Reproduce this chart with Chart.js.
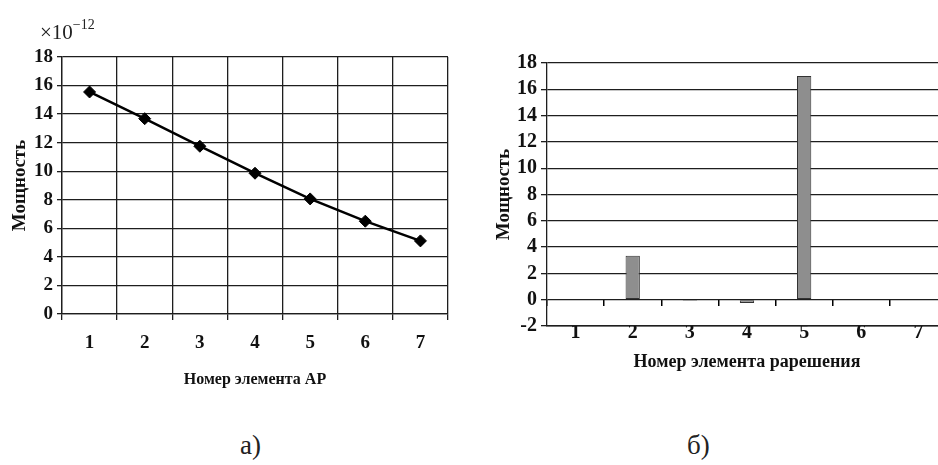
<!DOCTYPE html>
<html>
<head>
<meta charset="utf-8">
<script src="https://cdn.jsdelivr.net/npm/chart.js@4.4.1/dist/chart.umd.min.js"></script>
<style>
html, body { margin:0; padding:0; background:#fff; overflow:hidden; }
#wrap { position:relative; width:938px; height:465px; overflow:hidden; background:#fff; }
canvas { position:absolute; }
.lbl { position:absolute; font-family:'Liberation Serif', serif; color:#222; white-space:nowrap; }
.lbl sup { font-size:14px; vertical-align:10px; }
</style>
</head>
<body>
<div id="wrap">
<canvas id="chartA" width="470" height="400" style="left:0;top:0;width:470px;height:400px"></canvas>
<canvas id="chartB" width="480" height="400" style="left:470px;top:0;width:480px;height:400px"></canvas>
<div class="lbl" style="left:40px;top:14px;font-size:21px;line-height:21px">×10<sup>−12</sup></div>
<div class="lbl" style="left:240px;top:432px;font-size:27px;line-height:27px">а)</div>
<div class="lbl" style="left:687px;top:432px;font-size:27px;line-height:27px">б)</div>
</div>
<script>
// left: power vs array element
var elementsA = ['1', '2', '3', '4', '5', '6', '7'];
var powerA = [15.55, 13.68, 11.75, 9.86, 8.06, 6.5, 5.12];
// right: power vs grating element
var elementsB = ['1', '2', '3', '4', '5', '6', '7'];
var powerB = [0, 3.35, -0.08, -0.25, 17.02, 0, 0];

var serif = "'Liberation Serif', 'Times New Roman', serif";
var ink = '#111';
var gridInk = '#1e1e1e';

Chart.defaults.animation = false;
Chart.defaults.color = ink;

function tickFont(size){
    return { family: serif, size: size, weight: 'bold' };
}

var configA = {
    type: 'line',
    data: {
        labels: elementsA,
        datasets: [{
            data: powerA,
            borderColor: '#000',
            borderWidth: 2.5,
            backgroundColor: '#000',
            pointStyle: 'rectRot',
            pointRadius: 6,
            pointBorderWidth: 1,
            tension: 0
        }]
    },
    options: {
        responsive: false,
        layout: { padding: { top: 57, right: 22, bottom: 0, left: 0 } },
        plugins: { legend: { display: false }, tooltip: { enabled: false } },
        scales: {
            x: {
                offset: true,
                grid: { offset: true, color: gridInk, lineWidth: 1.3, tickLength: 6 },
                border: { color: gridInk, width: 1.3 },
                ticks: { font: tickFont(19), padding: 12 },
                title: {
                    display: true,
                    text: 'Номер элемента АР',
                    font: { family: serif, size: 16, weight: 'bold', lineHeight: 1 },
                    padding: { top: 0, bottom: 12 }
                },
                afterFit: function(s){ s.height = 86; }
            },
            y: {
                min: 0,
                max: 18,
                grid: { color: gridInk, lineWidth: 1.3, tickLength: 5 },
                border: { color: gridInk, width: 1.3 },
                ticks: { stepSize: 2, autoSkip: false, font: tickFont(19), padding: 4 },
                title: {
                    display: true,
                    text: 'Мощность',
                    font: { family: serif, size: 19, weight: 'bold', lineHeight: 1 },
                    padding: { top: 10.5, bottom: 0 }
                },
                afterFit: function(s){ s.width = 62; }
            }
        }
    }
};

var configB = {
    type: 'bar',
    data: {
        labels: elementsB,
        datasets: [{
            data: powerB,
            xAxisID: 'x',
            backgroundColor: '#8e8e8e',
            borderColor: '#333',
            borderWidth: 1,
            borderSkipped: false,
            categoryPercentage: 0.5,
            barPercentage: 0.5
        }]
    },
    options: {
        responsive: false,
        layout: { padding: { top: 63, right: 3, bottom: 0, left: 0 } },
        plugins: { legend: { display: false }, tooltip: { enabled: false } },
        scales: {
            x: {
                offset: true,
                grid: { display: false },
                border: { display: true, color: gridInk, width: 1.4 },
                ticks: { font: tickFont(20), padding: -13 },
                title: {
                    display: true,
                    text: 'Номер элемента рарешения',
                    font: { family: serif, size: 18, weight: 'bold', lineHeight: 1 },
                    padding: { top: 0, bottom: 29 }
                },
                afterFit: function(s){ s.height = 74; }
            },
            x0: {
                type: 'category',
                axis: 'x',
                position: { y: 0 },
                offset: true,
                grid: { offset: true, drawOnChartArea: false, drawTicks: true, color: '#000', lineWidth: 1.5, tickLength: 6 },
                border: { display: false },
                ticks: { display: true, color: 'rgba(0,0,0,0)', font: { size: 1 } }
            },
            y: {
                min: -2,
                max: 18,
                grid: { color: gridInk, lineWidth: 1.3, tickLength: 6 },
                border: { color: gridInk, width: 1.3 },
                ticks: { stepSize: 2, autoSkip: false, font: tickFont(20), padding: 4 },
                title: {
                    display: true,
                    text: 'Мощность',
                    font: { family: serif, size: 19, weight: 'bold', lineHeight: 1 },
                    padding: { top: 24.5, bottom: 0 }
                },
                afterFit: function(s){ s.width = 77; }
            }
        }
    }
};

new Chart(document.getElementById('chartA').getContext('2d'), configA);
new Chart(document.getElementById('chartB').getContext('2d'), configB);
</script>
</body>
</html>
